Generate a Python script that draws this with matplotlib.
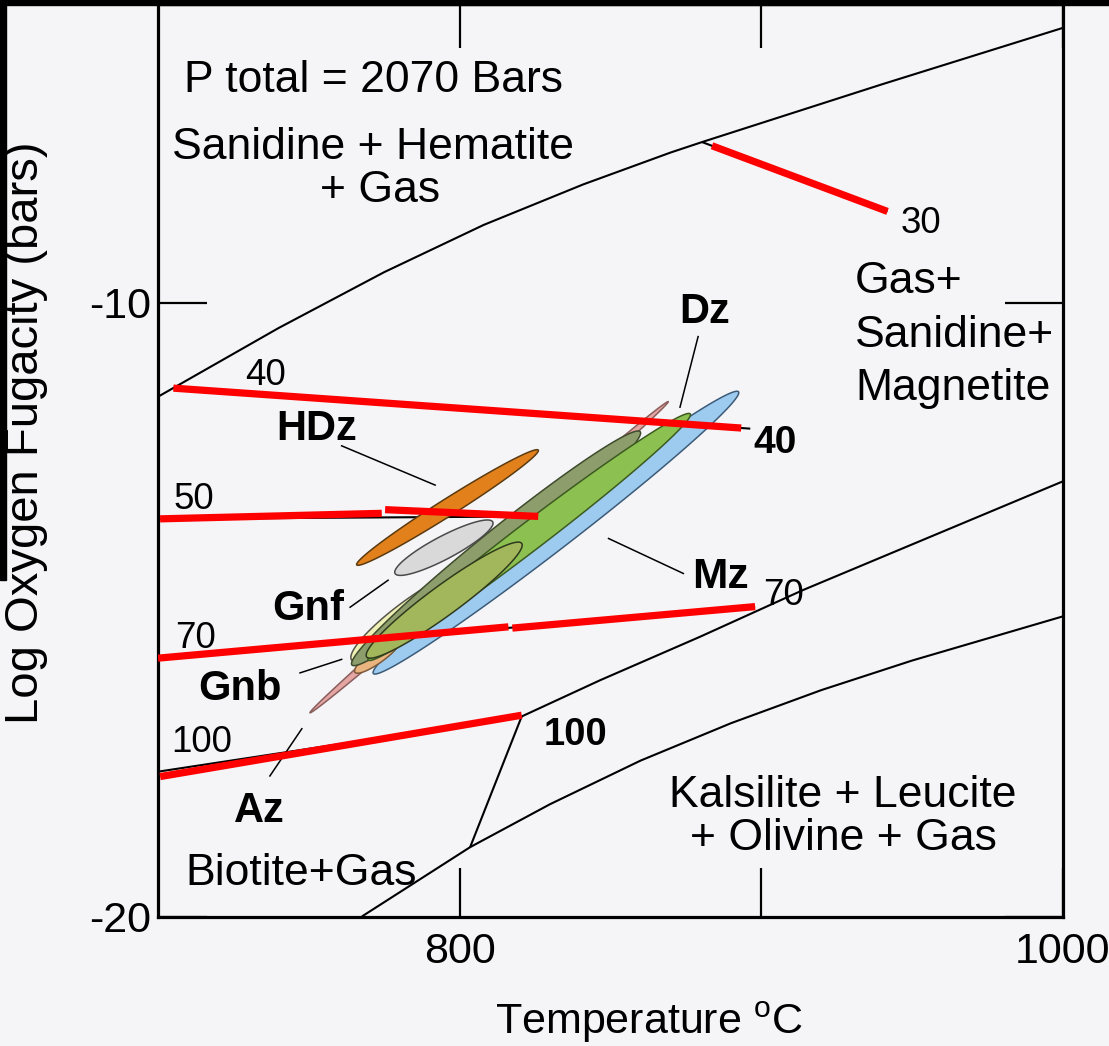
import numpy as np
import matplotlib
matplotlib.use("Agg")
import matplotlib.pyplot as plt
from matplotlib.patches import Rectangle

# ------------------------------------------------------------------ data
x_ticks = [800, 900, 1000]
x_tick_labels = ["800", "", "1000"]
y_ticks = [-20, -10]
y_tick_labels = ["-20", "-10"]

# phase boundaries: temperature (deg C) and log fO2 (bars)
upper_T = [700, 740, 775, 808, 841, 870, 880.4, 940, 1000]
upper_f = [-11.53, -10.41, -9.50, -8.73, -8.07, -7.55, -7.38, -6.44, -5.52]
lower_T = [767.6, 803.5, 830, 860, 890, 920, 950, 1000]
lower_f = [-20.0, -18.87, -18.17, -17.46, -16.85, -16.31, -15.83, -15.11]
mid_T = [820.6, 846.6, 879.8, 913.9, 1000]
mid_f = [-16.74, -16.15, -15.44, -14.68, -12.91]
steep_T = [803.5, 820.6]
steep_f = [-18.87, -16.74]

# black isopleths
iso30_T = [880.4, 941.9]
iso30_f = [-7.38, -8.51]
iso40_T = [706.5, 896.4]
iso40_f = [-11.38, -12.05]
iso50_T = [700.0, 828.0]
iso50_f = [-13.52, -13.48]
iso70_T = [700.0, 898.0]
iso70_f = [-15.79, -14.95]
iso100_T = [700.0, 820.6]
iso100_f = [-17.64, -16.74]

# red (highlighted) isopleth segments
red30_T = [883.7, 941.9]
red30_f = [-7.44, -8.51]
red40_T = [705.1, 893.4]
red40_f = [-11.39, -12.04]
red50a_T = [700.7, 774.2]
red50a_f = [-13.52, -13.43]
red50b_T = [775.3, 826.1]
red50b_f = [-13.37, -13.48]
red70a_T = [700.0, 816.2]
red70a_f = [-15.79, -15.28]
red70b_T = [817.5, 898.0]
red70b_f = [-15.30, -14.95]
red100_T = [700.7, 820.6]
red100_f = [-17.72, -16.72]

# composition fields (long-axis end points of each ellipse)
field_names = ["pink", "blue", "tan", "yellow", "olive", "green", "lightolive", "gray", "orange"]
field_T0 = [750.4, 771.4, 765.3, 764.2, 764.3, 769.7, 769.2, 778.6, 765.9]
field_f0 = [-16.68, -16.04, -16.02, -15.82, -15.90, -15.82, -15.77, -14.41, -14.27]
field_T1 = [869.2, 892.5, 780.3, 803.5, 859.9, 876.5, 820.6, 811.0, 826.1]
field_f1 = [-11.61, -11.45, -15.49, -14.39, -12.10, -11.81, -13.92, -13.57, -12.40]

# ------------------------------------------------------------------ styles
field_width_px = [10, 32, 14, 32, 34, 28, 30, 23, 17]
field_face = ["#e4a5a3", "#9dcbef", "#e9b47f", "#eff0b6", "#8e9d6c", "#8cc152",
              "#a2b65b", "#d9d9d9", "#e2801b"]
field_edge = ["#8a5e5c", "#3b5b78", "#7a5a3a", "#55554a", "#3e4a2c", "#3c5a20",
              "#2f3a1c", "#4a4a4a", "#5a3a10"]

plt.rcParams["font.family"] = ["Liberation Sans", "DejaVu Sans"]
plt.rcParams["mathtext.fontset"] = "custom"
plt.rcParams["mathtext.rm"] = "Liberation Sans"

BG = "#f5f5f7"
W, H = 1109, 1046
fig = plt.figure(figsize=(W / 100, H / 100), dpi=100, facecolor=BG)
ax = fig.add_axes([158 / W, (H - 916.5) / H, (1062.7 - 158) / W, (916.5 - 4) / H])
ax.set_facecolor(BG)
ax.set_xlim(700, 1000)
ax.set_ylim(-20, -5.13)

for s in ax.spines.values():
    s.set_linewidth(2.3)
    s.set_color("black")

ax.set_xticks(x_ticks)
ax.set_xticklabels(x_tick_labels)
ax.set_yticks(y_ticks)
ax.set_yticklabels(y_tick_labels)
ax.tick_params(direction="in", length=35, width=1.6, top=True, right=True,
               labelsize=31, colors="black")
ax.tick_params(axis="x", pad=11)
ax.tick_params(axis="y", pad=5)
for t in ax.yaxis.get_major_ticks():
    t.tick2line.set_markersize(42)
for t in ax.xaxis.get_major_ticks():
    t.tick2line.set_markersize(32)

ax.set_xlabel(r"Temperature $^{\rm o}$C", fontsize=31)
ax.xaxis.label.set_va("center")
ax.xaxis.set_label_coords((649 - 158) / 904.7, -(1022 - 916.5) / 912.5)
ax.set_ylabel("Log Oxygen Fugacity (bars)", fontsize=34)
ax.yaxis.label.set_va("center")
ax.yaxis.set_label_coords((26 - 158) / 904.7, (916.5 - 433) / 912.5)

# boundaries and isopleths
blk = dict(color="black", lw=1.5, zorder=2, solid_capstyle="butt", solid_joinstyle="round")
for T, f in [(upper_T, upper_f), (lower_T, lower_f), (mid_T, mid_f), (steep_T, steep_f),
             (iso30_T, iso30_f), (iso40_T, iso40_f), (iso50_T, iso50_f),
             (iso70_T, iso70_f), (iso100_T, iso100_f)]:
    ax.plot(T, f, **blk)


def ellipse_poly(T0, f0, T1, f1, width_px, n=240):
    p0 = ax.transData.transform((T0, f0))
    p1 = ax.transData.transform((T1, f1))
    c = (p0 + p1) / 2
    d = p1 - p0
    L = np.hypot(d[0], d[1])
    a = np.arctan2(d[1], d[0])
    t = np.linspace(0, 2 * np.pi, n)
    x = L / 2 * np.cos(t)
    y = width_px / 2 * np.sin(t)
    X = c[0] + x * np.cos(a) - y * np.sin(a)
    Y = c[1] + x * np.sin(a) + y * np.cos(a)
    return ax.transData.inverted().transform(np.column_stack([X, Y]))


for i in range(len(field_names)):
    poly = ellipse_poly(field_T0[i], field_f0[i], field_T1[i], field_f1[i], field_width_px[i])
    ax.fill(poly[:, 0], poly[:, 1], facecolor=field_face[i], edgecolor=field_edge[i],
            lw=1.1, zorder=3 + i * 0.1)

# red highlighted isopleths
red = dict(color="#ff0000", lw=5.2, zorder=6, solid_capstyle="butt")
for T, f in [(red30_T, red30_f), (red40_T, red40_f), (red50a_T, red50a_f),
             (red50b_T, red50b_f), (red70a_T, red70a_f), (red70b_T, red70b_f),
             (red100_T, red100_f)]:
    ax.plot(T, f, **red)

# leader lines for labels
leaders = [
    ((760.9, -12.33), (791.9, -12.97)),   # HDz
    ((763.7, -14.96), (776.3, -14.52)),   # Gnf
    ((747.1, -16.03), (760.9, -15.81)),   # Gnb
    ((737.1, -17.71), (747.7, -16.94)),   # Az
    ((849.4, -13.84), (874.2, -14.41)),   # Mz
    ((879.1, -10.55), (873.1, -11.70)),   # Dz
]
for (a, b) in leaders:
    ax.plot([a[0], b[0]], [a[1], b[1]], color="black", lw=1.1, zorder=4)

# text labels
def lab(T, f, s, size, weight="normal", ha="center"):
    ax.text(T, f, s, fontsize=size, fontweight=weight, ha=ha, va="baseline",
            zorder=8, color="black")

lab(771.6, -6.56, "P total = 2070 Bars", 32)
lab(771.3, -7.65, "Sanidine + Hematite", 32)
lab(773.6, -8.35, "+ Gas", 32)
lab(931.2, -9.84, "Gas+", 32, ha="left")
lab(931.2, -10.72, "Sanidine+", 32, ha="left")
lab(931.2, -11.58, "Magnetite", 32, ha="left")
lab(747.4, -19.49, "Biotite+Gas", 32)
lab(927.2, -18.22, "Kalsilite + Leucite", 32)
lab(927.2, -18.92, "+ Olivine + Gas", 32)

lab(881.4, -10.33, "Dz", 30, "bold")
lab(752.7, -12.23, "HDz", 30, "bold")
lab(749.8, -15.17, "Gnf", 30, "bold")
lab(727.2, -16.47, "Gnb", 30, "bold")
lab(733.5, -18.46, "Az", 30, "bold")
lab(886.4, -14.65, "Mz", 30.5, "bold")

lab(953.1, -8.86, "30", 26.5)
lab(735.8, -11.34, "40", 26.5)
lab(711.9, -13.36, "50", 26.5)
lab(712.3, -15.62, "70", 26.5)
lab(714.6, -17.32, "100", 26.5)
lab(904.6, -12.45, "40", 28, "bold")
lab(907.3, -14.92, "70", 26.5)
lab(838.6, -17.21, "100", 27.5, "bold")

# scan edges (behind the axes and its labels)
fig.patches.append(Rectangle((0, 1 - 5 / H), 1, 5 / H, transform=fig.transFigure,
                             color="black", zorder=10))
fig.patches.append(Rectangle((0, 1 - 580 / H), 6 / W, 580 / H, transform=fig.transFigure,
                             color="black", zorder=-1))

fig.savefig("out.png", dpi=100, facecolor=BG)
